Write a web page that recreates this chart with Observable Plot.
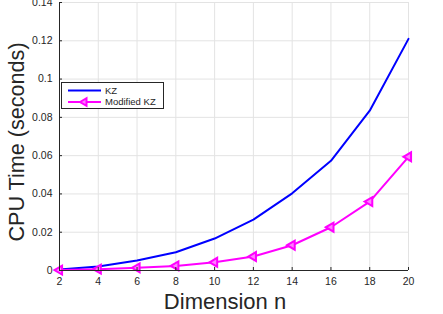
<!DOCTYPE html>
<html>
<head>
<meta charset="utf-8">
<script src="https://cdn.jsdelivr.net/npm/d3@7"></script>
<script src="https://cdn.jsdelivr.net/npm/@observablehq/plot@0.6"></script>
<style>
  html, body { margin: 0; padding: 0; background: #fff; }
  #wrap { position: relative; width: 443px; height: 314px; overflow: hidden; font-family: "Liberation Sans", Arial, sans-serif; }
  #legend { position: absolute; left: 61px; top: 82px; width: 103px; height: 27px; background: #fff; border: 1px solid #262626; box-sizing: border-box; font-size: 9.5px; color: #262626; }
</style>
</head>
<body>
<div id="wrap"></div>
<script>
const dims = [2, 4, 6, 8, 10, 12, 14, 16, 18, 20];
const kzTime = [0.0005, 0.0021, 0.0052, 0.0095, 0.0167, 0.0266, 0.0403, 0.0573, 0.0835, 0.1210];
const modKzTime = [0.0002, 0.0007, 0.0014, 0.0024, 0.0043, 0.0073, 0.0132, 0.0226, 0.0360, 0.0594];
const xTicks = [2, 4, 6, 8, 10, 12, 14, 16, 18, 20];
const yTicks = [0, 0.02, 0.04, 0.06, 0.08, 0.1, 0.12, 0.14];
const seriesNames = ["KZ", "Modified KZ"];
const seriesColors = ["#0000ff", "#ff00ff"];

const kz = dims.map((d, i) => ({n: d, t: kzTime[i]}));
const mkz = dims.map((d, i) => ({n: d, t: modKzTime[i]}));

const axisColor = "#262626";
const gridColor = "#e3e3e3";

const chart = Plot.plot({
  width: 443,
  height: 314,
  marginLeft: 59,
  marginRight: 35,
  marginTop: 2,
  marginBottom: 44,
  style: {fontFamily: "'Liberation Sans', Arial, sans-serif", fontSize: "10.5px", color: axisColor, background: "white", overflow: "visible"},
  x: {domain: [2, 20]},
  y: {domain: [0, 0.14]},
  marks: [
    Plot.gridX(xTicks, {stroke: gridColor, strokeOpacity: 1}),
    Plot.gridY(yTicks, {stroke: gridColor, strokeOpacity: 1}),
    Plot.line(kz, {x: "n", y: "t", stroke: seriesColors[0], strokeWidth: 2}),
    Plot.line(mkz, {x: "n", y: "t", stroke: seriesColors[1], strokeWidth: 2}),
    Plot.dot(mkz, {x: "n", y: "t", symbol: "triangle", rotate: -90, r: 3.3, stroke: seriesColors[1], strokeWidth: 2, fill: "#ff80ff"}),
    Plot.ruleX([2], {stroke: axisColor, strokeWidth: 1}),
    Plot.ruleY([0], {stroke: axisColor, strokeWidth: 1}),
    Plot.axisX({ticks: xTicks, tickSize: -3, tickPadding: 10, label: null, stroke: axisColor, fill: axisColor}),
    Plot.axisY({ticks: yTicks, tickSize: -3, tickPadding: 10, label: null, stroke: axisColor, fill: axisColor,
      tickFormat: d => d === 0 ? "0" : String(+d.toFixed(2))})
  ]
});

const wrap = document.getElementById("wrap");
wrap.appendChild(chart);

const svg = d3.select(chart);
svg.append("text")
  .attr("x", 225).attr("y", 309)
  .attr("text-anchor", "middle")
  .attr("font-size", "22px")
  .attr("fill", axisColor)
  .text("Dimension n");
svg.append("text")
  .attr("transform", "translate(24,142) rotate(-90)")
  .attr("text-anchor", "middle")
  .attr("font-size", "21.6px")
  .attr("fill", axisColor)
  .text("CPU Time (seconds)");

// legend
const legend = document.createElement("div");
legend.id = "legend";
const ls = d3.create("svg").attr("width", 101).attr("height", 25);
seriesNames.forEach((name, i) => {
  const y = i === 0 ? 7.5 : 19;
  ls.append("line").attr("x1", 6).attr("x2", 39).attr("y1", y).attr("y2", y)
    .attr("stroke", seriesColors[i]).attr("stroke-width", 2);
  if (i === 1) {
    ls.append("path").attr("d", `M${18},${y} L${24.5},${y - 3.8} L${24.5},${y + 3.8} Z`)
      .attr("fill", "#ff80ff").attr("stroke", seriesColors[i]).attr("stroke-width", 2);
  }
  ls.append("text").attr("x", 43).attr("y", y + 3.4).attr("font-size", "9.5px")
    .attr("fill", axisColor).attr("font-family", "'Liberation Sans', Arial, sans-serif").text(name);
});
legend.appendChild(ls.node());
wrap.appendChild(legend);
</script>
</body>
</html>
